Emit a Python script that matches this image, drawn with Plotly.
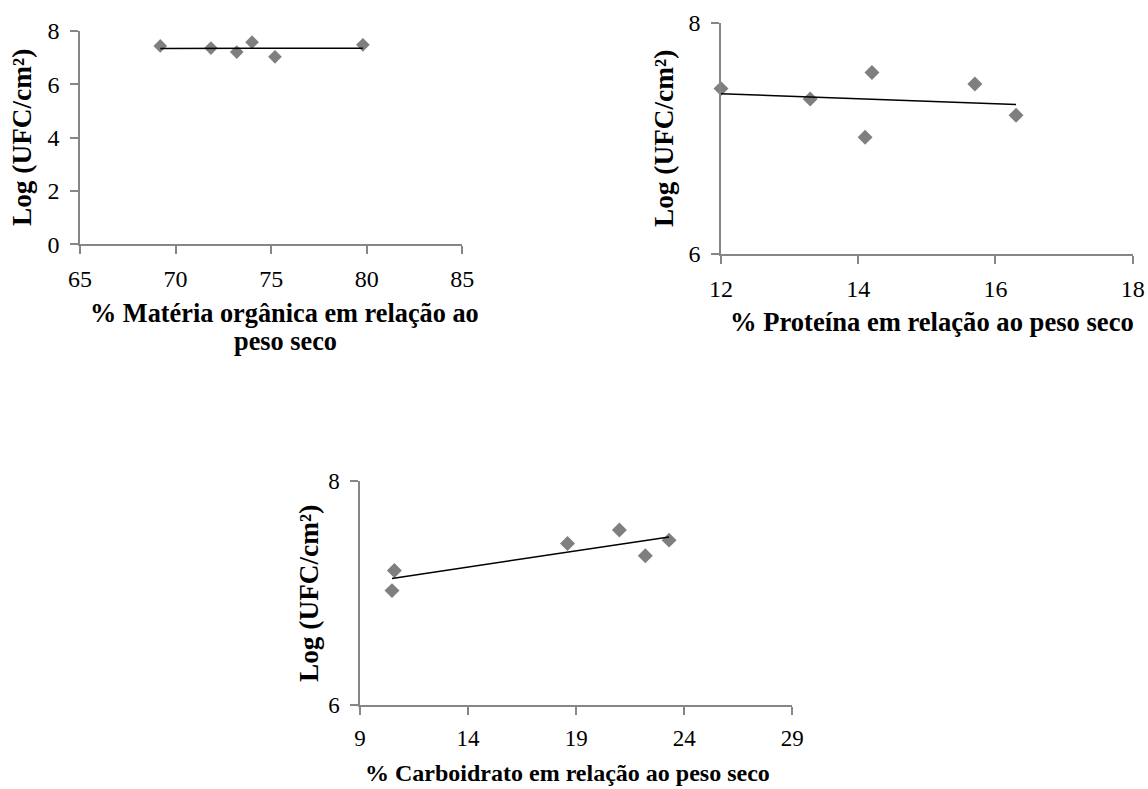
import numpy as np
import plotly.graph_objects as go

# Data
log_ufc = [7.43, 7.35, 7.20, 7.57, 7.02, 7.47]
materia_organica = [69.2, 71.85, 73.2, 74.0, 75.2, 79.8]
log_ufc_p = [7.43, 7.34, 7.57, 7.01, 7.47, 7.20]
proteina = [12.0, 13.3, 14.2, 14.1, 15.7, 16.3]
log_ufc_c = [7.20, 7.02, 7.44, 7.56, 7.33, 7.47]
carboidrato = [10.59, 10.48, 18.6, 21.0, 22.2, 23.3]

x1_ticks = [65, 70, 75, 80, 85]
y1_ticks = [0, 2, 4, 6, 8]
x2_ticks = [12, 14, 16, 18]
y2_ticks = [6, 8]
x3_ticks = [9, 14, 19, 24, 29]
y3_ticks = [6, 8]

W, H = 1148, 789
FONT = "Liberation Serif"
AX = "#868686"
MK = "#7f7f7f"


def trend(x, y):
    x = np.asarray(x, float)
    y = np.asarray(y, float)
    m, b = np.polyfit(x, y, 1)
    xs = np.array([x.min(), x.max()])
    return xs, m * xs + b


def px_dom_x(a, b):
    return [a / W, b / W]


def px_dom_y(top, bottom):
    return [1 - bottom / H, 1 - top / H]


fig = go.Figure()
sets = [
    (materia_organica, log_ufc, "x", "y", 10.5),
    (proteina, log_ufc_p, "x2", "y2", 11.5),
    (carboidrato, log_ufc_c, "x3", "y3", 11.5),
]
for xv, yv, xa, ya, ms in sets:
    fig.add_trace(go.Scatter(x=xv, y=yv, mode="markers", xaxis=xa, yaxis=ya,
                             marker=dict(symbol="diamond", size=ms, color=MK,
                                         line=dict(width=0)),
                             showlegend=False, cliponaxis=False))
    tx, ty = trend(xv, yv)
    fig.add_trace(go.Scatter(x=tx, y=ty, mode="lines", xaxis=xa, yaxis=ya,
                             line=dict(color="black", width=1.5),
                             showlegend=False))


def xaxis(dom, rng, ticks, anchor, size):
    return dict(domain=dom, range=rng, tickvals=ticks, anchor=anchor,
                showline=True, linecolor=AX, linewidth=1.5, ticks="outside",
                tickcolor=AX, ticklen=8, tickwidth=1.5, showgrid=False,
                zeroline=False, automargin=False,
                tickfont=dict(family=FONT, size=size, color="black"),
                ticklabelstandoff=4)


def yaxis(dom, rng, ticks, anchor, size):
    return dict(domain=dom, range=rng, tickvals=ticks, anchor=anchor,
                showline=True, linecolor=AX, linewidth=1.5, ticks="outside",
                tickcolor=AX, ticklen=8, tickwidth=1.5, showgrid=False,
                zeroline=False, automargin=False,
                tickfont=dict(family=FONT, size=size, color="black"),
                ticklabelstandoff=6)


fig.update_layout(
    width=W, height=H, margin=dict(l=0, r=0, t=0, b=0, pad=0, autoexpand=False),
    paper_bgcolor="white", plot_bgcolor="white",
    xaxis=xaxis(px_dom_x(80, 462.3), [65, 85], x1_ticks, "y", 24),
    yaxis=yaxis(px_dom_y(30.7, 244.3), [0, 8], y1_ticks, "x", 24),
    xaxis2=xaxis(px_dom_x(721, 1132.7), [12, 18], x2_ticks, "y2", 24),
    yaxis2=yaxis(px_dom_y(22.7, 254), [6, 8], y2_ticks, "x2", 24),
    xaxis3=xaxis(px_dom_x(360, 792.3), [9, 29], x3_ticks, "y3", 23),
    yaxis3=yaxis(px_dom_y(480.7, 705), [6, 8], y3_ticks, "x3", 23),
)

titles = [
    ("<b>% Matéria orgânica em relação ao</b>", 284.5, 314, 0, 26.3),
    ("<b>peso seco</b>", 285, 341, 0, 26.3),
    ("<b>% Proteína em relação ao peso seco</b>", 932, 322, 0, 26.6),
    ("<b>% Carboidrato em relação ao peso seco</b>", 567, 773, 0, 24),
    ("<b>Log (UFC/cm²)</b>", 22, 138, -90, 27.3),
    ("<b>Log (UFC/cm²)</b>", 664, 139, -90, 27.3),
    ("<b>Log (UFC/cm²)</b>", 309, 594, -90, 27.3),
]
for text, cx, cy, ang, sz in titles:
    fig.add_annotation(text=text, x=cx / W, y=1 - cy / H, xref="paper", yref="paper",
                       xanchor="center", yanchor="middle", showarrow=False,
                       textangle=ang, font=dict(family=FONT, size=sz, color="black"))

fig.write_html("out.html")
